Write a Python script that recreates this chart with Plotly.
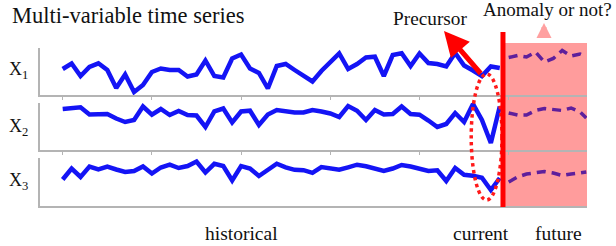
import plotly.graph_objects as go

# ---------------- data ----------------
hist_t = list(range(50))
future_t = [50, 51, 52, 53, 54, 55, 56, 57, 58, 58.7]

x1_hist = [26, 31.5, 19, 28, 31.7, 25, 7, 20.5, 3, 10,
           23, 26.5, 25, 25, 18.5, 20.5, 34.5, 19, 17.5, 36.5,
           40.5, 26.5, 22, 6.5, 29, 31, 25, 19.5, 13.5, 24,
           33, 41.5, 26, 31, 37.5, 38.3, 19, 40, 41.7, 29,
           41.5, 32, 31, 28.5, 42, 29.5, 24.5, 19, 28.5, 27]
x2_hist = [41, 42, 42.7, 35.5, 35.7, 36, 31.5, 28, 30, 43.5,
           35.3, 41, 35, 39, 35, 34.5, 23, 38.7, 41.5, 27.5,
           38.5, 39.3, 25, 35.5, 40, 38.5, 37.5, 37.5, 40, 38.5,
           36.5, 33, 44, 39.3, 30, 40, 35.5, 36, 43.5, 36,
           35.3, 29.5, 23, 26, 37, 28, 46, 30, 7, 43.5]
x3_hist = [26.5, 37.5, 29, 39.5, 36.5, 39.5, 36.5, 34, 35, 39.5,
           32.5, 38.5, 41.3, 38, 40, 44.5, 33.5, 42.2, 40, 25.5,
           40, 37.5, 30, 36.5, 42.3, 38.7, 36.2, 35.8, 33.2, 39,
           37.5, 36.3, 38.7, 41.3, 39.7, 37.5, 35, 37.5, 41, 39.5,
           37, 35, 35.7, 25, 38, 31.2, 30.3, 28.3, 16, 28]

x1_future = [37.5, 39.5, 38, 43, 33, 36.5, 44.5, 39, 41, 38.5]
x2_future = [37, 35, 35, 39.5, 41.5, 40.5, 39.5, 42, 38, 32]
x3_future = [24, 29, 32, 33.5, 34.5, 33, 30.5, 32, 33, 34]

series_labels = ["X<sub>1</sub>", "X<sub>2</sub>", "X<sub>3</sub>"]
tick_positions = [0, 10, 20, 30, 40, 50]

# ---------------- styling ----------------
W, H = 616, 246
L, R, T, B = 40, 587, 43, 206


def px(xp):
    return (xp - L) / (R - L)


def py(yp):
    return (B - yp) / (B - T)


XR = [-2.545, 58.78]
SERIF = "Liberation Serif, Times New Roman, serif"
BLUE = "#1414f5"
PURPLE = "#5e1f9c"
AXIS_GRAY = "#b4b4b4"

domains = [[py(95), py(48)], [py(150), py(103)], [0, py(158)]]
yranges = [[0, 47], [0, 47], [0, 48]]
hist = [x1_hist, x2_hist, x3_hist]
fut = [x1_future, x2_future, x3_future]

fig = go.Figure()
layout = dict(
    width=W, height=H,
    margin=dict(l=L, r=W - R, t=T, b=H - B, pad=0),
    paper_bgcolor="white", plot_bgcolor="rgba(0,0,0,0)",
    showlegend=False,
)

for k in range(3):
    xa = "x" if k == 0 else f"x{k+1}"
    ya = "y" if k == 0 else f"y{k+1}"
    fig.add_trace(go.Scatter(x=hist_t, y=hist[k], mode="lines",
                             line=dict(color=BLUE, width=4.5), xaxis=xa, yaxis=ya,
                             hoverinfo="skip"))
    fig.add_trace(go.Scatter(x=future_t, y=fut[k], mode="lines",
                             line=dict(color=PURPLE, width=3.5, dash="9px,6px"),
                             xaxis=xa, yaxis=ya, hoverinfo="skip"))
    xkey = "xaxis" if k == 0 else f"xaxis{k+1}"
    ykey = "yaxis" if k == 0 else f"yaxis{k+1}"
    layout[xkey] = dict(range=XR, anchor=ya, showgrid=False, zeroline=False,
                        showline=True, linecolor=AXIS_GRAY, linewidth=2,
                        tickvals=tick_positions, ticks="outside" if k < 2 else "",
                        ticklen=3, tickcolor=AXIS_GRAY, showticklabels=False,
                        fixedrange=True)
    layout[ykey] = dict(range=yranges[k], domain=domains[k], anchor=xa,
                        showgrid=False, zeroline=False, showline=True,
                        linecolor=AXIS_GRAY, linewidth=2, showticklabels=False,
                        ticks="", fixedrange=True)

fig.update_layout(**layout)

# future pink region
fig.add_shape(type="rect", xref="x", yref="paper", x0=49.36, x1=XR[1], y0=0, y1=1,
              fillcolor="#ff9c9c", line=dict(width=0), layer="below")
# dotted ellipse (precursor)
fig.add_shape(type="circle", xref="x", yref="paper", x0=45.8, x1=49.25,
              y0=py(200), y1=py(74), line=dict(color="#ff1a1a", width=3.5, dash="dot"))
# current time red line
fig.add_shape(type="line", xref="x", yref="paper", x0=49.36, x1=49.36,
              y0=py(207), y1=py(32), line=dict(color="#ff0000", width=5))

ann = []
ann.append(dict(text="Multi-variable time series", x=px(10), y=py(15),
                xanchor="left", yanchor="middle",
                font=dict(family=SERIF, size=22.5, color="#111")))
for lab, yc in zip(series_labels, [70, 127, 181]):
    ann.append(dict(text=lab, x=px(7), y=py(yc), xanchor="left", yanchor="middle",
                    font=dict(family=SERIF, size=18, color="#111")))
ann.append(dict(text="historical", x=px(241), y=py(234), xanchor="center", yanchor="middle",
                font=dict(family=SERIF, size=19.5, color="#111")))
ann.append(dict(text="current", x=px(481), y=py(234), xanchor="center", yanchor="middle",
                font=dict(family=SERIF, size=19.5, color="#111")))
ann.append(dict(text="future", x=px(558), y=py(234), xanchor="center", yanchor="middle",
                font=dict(family=SERIF, size=19.5, color="#111")))
ann.append(dict(text="Precursor", x=px(430), y=py(19), xanchor="center", yanchor="middle",
                font=dict(family=SERIF, size=19.3, color="#111")))
ann.append(dict(text="Anomaly or not?", x=px(481), y=py(9), xanchor="left", yanchor="middle",
                font=dict(family=SERIF, size=19, color="#111")))
# red arrow toward "Precursor"
ann.append(dict(text="", x=px(444), y=py(31), showarrow=True, ax=38, ay=44,
                arrowhead=2, arrowsize=1, arrowwidth=5, arrowcolor="#ff0000"))
# small pink up arrow
ann.append(dict(text="", x=px(544), y=py(23), showarrow=True, ax=0, ay=13,
                arrowhead=2, arrowsize=0.6, arrowwidth=5, arrowcolor="#ffa0a0"))
for a in ann:
    a.setdefault("showarrow", False)
    a["xref"] = "paper"
    a["yref"] = "paper"
fig.update_layout(annotations=ann)

fig.write_html("out.html", config={"displayModeBar": False, "staticPlot": True},
               post_script="document.body.style.margin='0';document.body.style.padding='0';")
